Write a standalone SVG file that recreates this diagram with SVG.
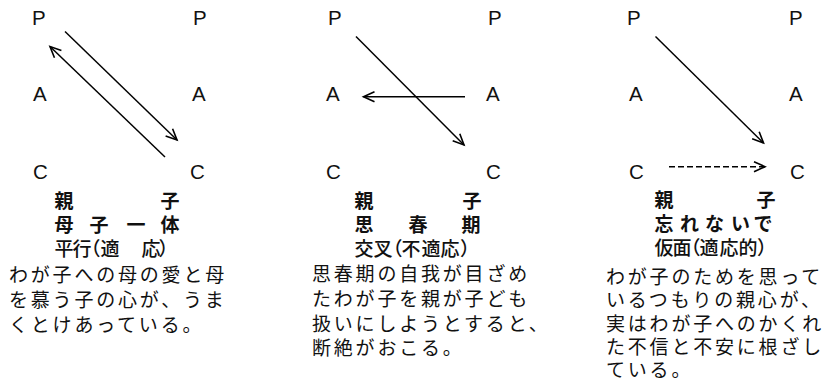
<svg xmlns="http://www.w3.org/2000/svg" width="828" height="381" viewBox="0 0 828 381">
<defs>
<marker id="head" markerUnits="userSpaceOnUse" markerWidth="16" markerHeight="16" viewBox="-13 -8 16 16" refX="0" refY="0" orient="auto">
<path d="M-11,-5 L0,0 L-11,5" fill="none" stroke="#000" stroke-width="1.6" stroke-linejoin="miter"/>
</marker>
</defs>
<style>
.lt{font-family:"Liberation Sans",Arial,sans-serif;font-size:20.5px;fill:#111}
.t1{font-family:"Noto Sans CJK JP",sans-serif;font-size:19px;font-weight:bold;fill:#111}
.t3{font-family:"Noto Sans CJK JP",sans-serif;font-size:19px;font-weight:500;fill:#111}
.bd{font-family:"Noto Sans CJK JP",sans-serif;font-size:19px;letter-spacing:2.8px;fill:#111}
.ln{stroke:#000;stroke-width:1.5;fill:none}
</style>
<rect width="828" height="381" fill="#fff"/>
<g id="panel1">
<g id="p1-P-left"><text class="lt" x="32" y="25">P</text></g>
<g id="p1-P-right"><text class="lt" x="193" y="25">P</text></g>
<g id="p1-A-left"><text class="lt" x="33" y="101">A</text></g>
<g id="p1-A-right"><text class="lt" x="192" y="101">A</text></g>
<g id="p1-C-left"><text class="lt" x="33" y="179">C</text></g>
<g id="p1-C-right"><text class="lt" x="190" y="179">C</text></g>
<g id="p1-title">
<text class="t1" x="54.5 160.5" y="208">親子</text>
<text class="t1" x="54.5 89.5 126.5 160.5" y="232">母子一体</text>
<text class="t3" x="54.5 72.5 81.5 100.5 141.5 158.5" y="256">平行（適応）</text>
</g>
<g id="p1-body">
<text class="bd" x="9" y="282">わが子への母の愛と母</text>
<text class="bd" x="9" y="307">を慕う子の心が、うま</text>
<text class="bd" x="9" y="332">くとけあっている。</text>
</g>
</g>
<g id="panel2">
<g id="p2-P-left"><text class="lt" x="328" y="25">P</text></g>
<g id="p2-P-right"><text class="lt" x="488" y="25">P</text></g>
<g id="p2-A-left"><text class="lt" x="326" y="101">A</text></g>
<g id="p2-A-right"><text class="lt" x="486" y="101">A</text></g>
<g id="p2-C-left"><text class="lt" x="326" y="179">C</text></g>
<g id="p2-C-right"><text class="lt" x="486" y="179">C</text></g>
<g id="p2-title">
<text class="t1" x="354.5 462.5" y="208">親子</text>
<text class="t1" x="354.5 408.5 461.5" y="232">思春期</text>
<text class="t3" x="354.5 373.5 383.5 401.5 421.5 440.5 460" y="256">交叉（不適応）</text>
</g>
<g id="p2-body">
<text class="bd" x="312" y="281">思春期の自我が目ざめ</text>
<text class="bd" x="312" y="306">たわが子を親が子ども</text>
<text class="bd" x="312" y="331">扱いにしようとすると、</text>
<text class="bd" x="312" y="355">断絶がおこる。</text>
</g>
</g>
<g id="panel3">
<g id="p3-P-left"><text class="lt" x="627" y="25">P</text></g>
<g id="p3-P-right"><text class="lt" x="789" y="25">P</text></g>
<g id="p3-A-left"><text class="lt" x="629" y="101">A</text></g>
<g id="p3-A-right"><text class="lt" x="789" y="101">A</text></g>
<g id="p3-C-left"><text class="lt" x="629" y="179">C</text></g>
<g id="p3-C-right"><text class="lt" x="790" y="179">C</text></g>
<g id="p3-title">
<text class="t1" x="654.5 756.5" y="207">親子</text>
<text class="t1" x="654.5 680 705 731 753.5" y="231">忘れないで</text>
<text class="t3" x="654.5 672.5 681.5 699.5 719.5 738.5 757" y="255">仮面（適応的）</text>
</g>
<g id="p3-body">
<text class="bd" x="606" y="284">わが子のためを思って</text>
<text class="bd" x="606" y="307">いるつもりの親心が、</text>
<text class="bd" x="606" y="331">実はわが子へのかくれ</text>
<text class="bd" x="606" y="354">た不信と不安に根ざし</text>
<text class="bd" x="606" y="377">ている。</text>
</g>
</g>
<g id="connectors">
<line class="ln" x1="65" y1="31.5" x2="177" y2="140" marker-end="url(#head)"/>
<line class="ln" x1="165" y1="157" x2="50" y2="46.5" marker-end="url(#head)"/>
<line class="ln" x1="356" y1="36.5" x2="464" y2="145" marker-end="url(#head)"/>
<line class="ln" x1="465" y1="96.7" x2="363.5" y2="96.7" stroke-width="2" marker-end="url(#head)"/>
<line class="ln" x1="655.5" y1="36.5" x2="763.5" y2="143" marker-end="url(#head)"/>
<line class="ln" x1="669" y1="166.7" x2="765" y2="166.7" stroke-dasharray="6 3" marker-end="url(#head)"/>
</g>
</svg>
